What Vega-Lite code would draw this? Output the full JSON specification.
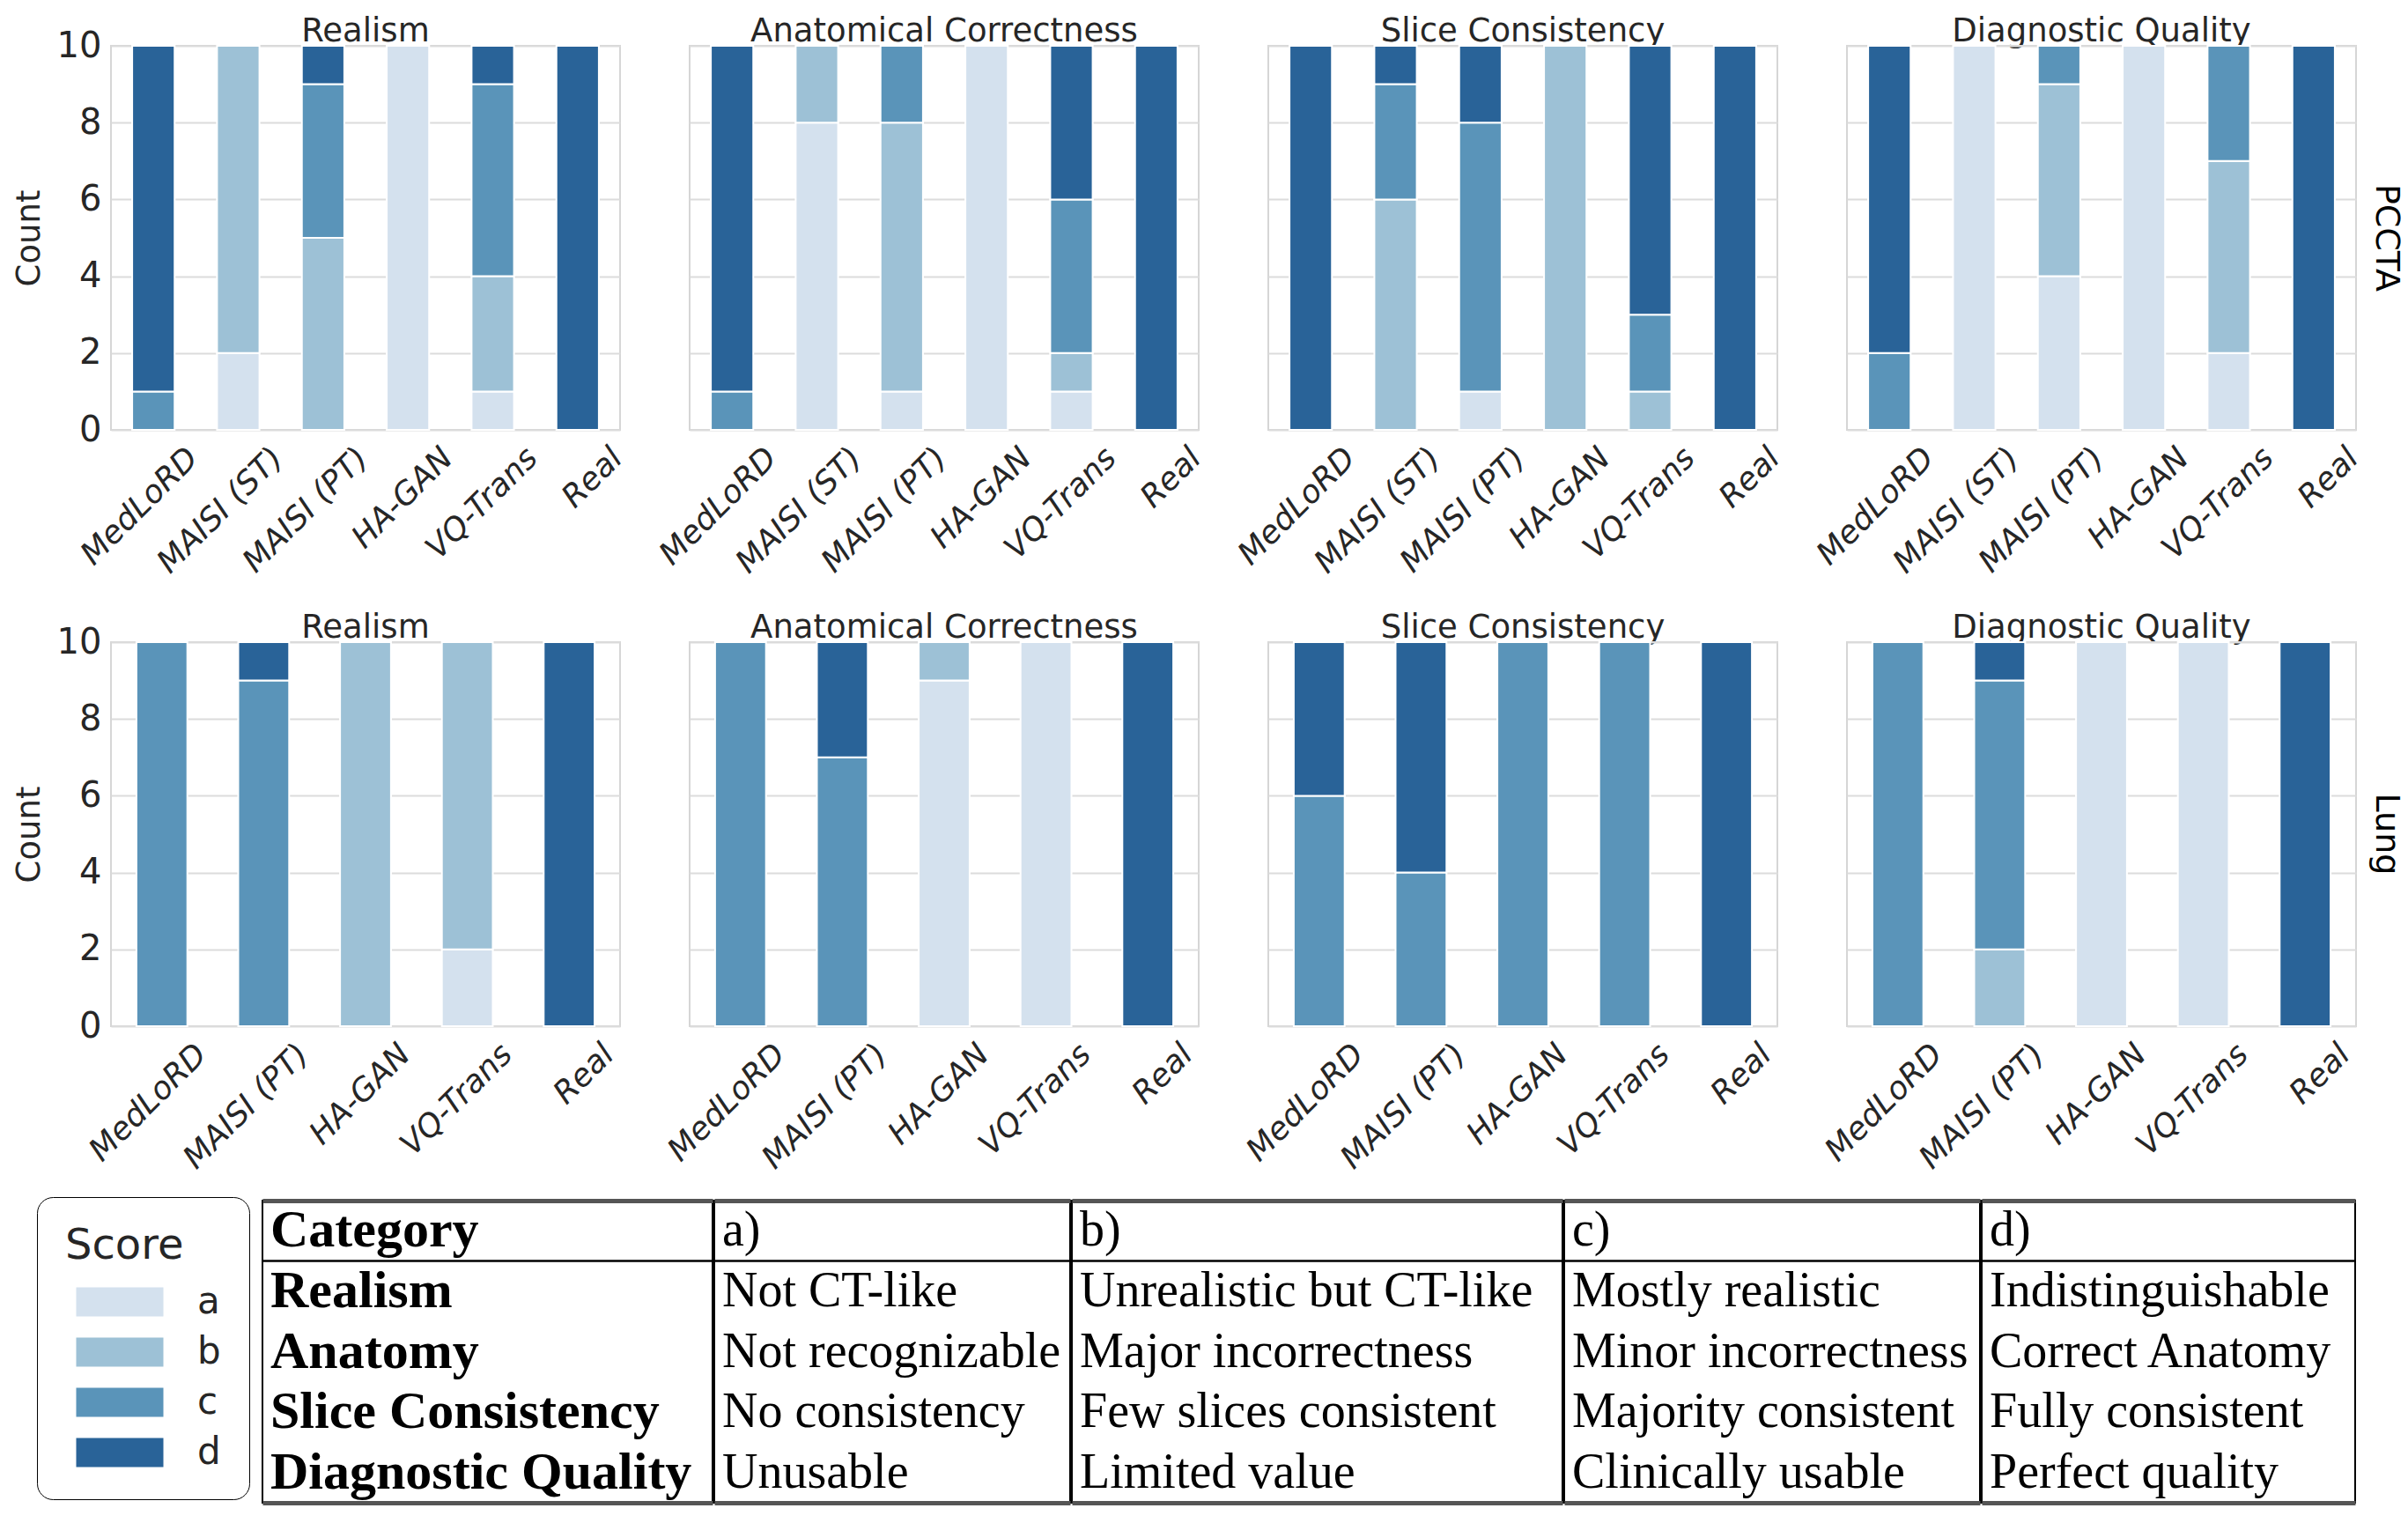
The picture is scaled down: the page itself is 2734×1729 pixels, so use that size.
{
  "$schema": "https://vega.github.io/schema/vega-lite/v6.json",
  "background": "white",
  "padding": {"left": 14, "top": 17, "right": 4, "bottom": 4},
  "config": {
    "font": "DejaVu Sans",
    "view": {"stroke": "#d6d6d6", "strokeWidth": 2},
    "axis": {"domain": false, "ticks": false, "gridColor": "#dcdcdc", "gridWidth": 2, "labelColor": "#262626", "titleColor": "#262626"},
    "header": {"labelColor": "#262626"}
  },
  "datasets": {
    "bars": [
      {"dataset": "PCCTA", "criterion": "Realism", "model": "MedLoRD", "score": "c", "count": 1},
      {"dataset": "PCCTA", "criterion": "Realism", "model": "MedLoRD", "score": "d", "count": 9},
      {"dataset": "PCCTA", "criterion": "Realism", "model": "MAISI (ST)", "score": "a", "count": 2},
      {"dataset": "PCCTA", "criterion": "Realism", "model": "MAISI (ST)", "score": "b", "count": 8},
      {"dataset": "PCCTA", "criterion": "Realism", "model": "MAISI (PT)", "score": "b", "count": 5},
      {"dataset": "PCCTA", "criterion": "Realism", "model": "MAISI (PT)", "score": "c", "count": 4},
      {"dataset": "PCCTA", "criterion": "Realism", "model": "MAISI (PT)", "score": "d", "count": 1},
      {"dataset": "PCCTA", "criterion": "Realism", "model": "HA-GAN", "score": "a", "count": 10},
      {"dataset": "PCCTA", "criterion": "Realism", "model": "VQ-Trans", "score": "a", "count": 1},
      {"dataset": "PCCTA", "criterion": "Realism", "model": "VQ-Trans", "score": "b", "count": 3},
      {"dataset": "PCCTA", "criterion": "Realism", "model": "VQ-Trans", "score": "c", "count": 5},
      {"dataset": "PCCTA", "criterion": "Realism", "model": "VQ-Trans", "score": "d", "count": 1},
      {"dataset": "PCCTA", "criterion": "Realism", "model": "Real", "score": "d", "count": 10},
      {"dataset": "PCCTA", "criterion": "Anatomical Correctness", "model": "MedLoRD", "score": "c", "count": 1},
      {"dataset": "PCCTA", "criterion": "Anatomical Correctness", "model": "MedLoRD", "score": "d", "count": 9},
      {"dataset": "PCCTA", "criterion": "Anatomical Correctness", "model": "MAISI (ST)", "score": "a", "count": 8},
      {"dataset": "PCCTA", "criterion": "Anatomical Correctness", "model": "MAISI (ST)", "score": "b", "count": 2},
      {"dataset": "PCCTA", "criterion": "Anatomical Correctness", "model": "MAISI (PT)", "score": "a", "count": 1},
      {"dataset": "PCCTA", "criterion": "Anatomical Correctness", "model": "MAISI (PT)", "score": "b", "count": 7},
      {"dataset": "PCCTA", "criterion": "Anatomical Correctness", "model": "MAISI (PT)", "score": "c", "count": 2},
      {"dataset": "PCCTA", "criterion": "Anatomical Correctness", "model": "HA-GAN", "score": "a", "count": 10},
      {"dataset": "PCCTA", "criterion": "Anatomical Correctness", "model": "VQ-Trans", "score": "a", "count": 1},
      {"dataset": "PCCTA", "criterion": "Anatomical Correctness", "model": "VQ-Trans", "score": "b", "count": 1},
      {"dataset": "PCCTA", "criterion": "Anatomical Correctness", "model": "VQ-Trans", "score": "c", "count": 4},
      {"dataset": "PCCTA", "criterion": "Anatomical Correctness", "model": "VQ-Trans", "score": "d", "count": 4},
      {"dataset": "PCCTA", "criterion": "Anatomical Correctness", "model": "Real", "score": "d", "count": 10},
      {"dataset": "PCCTA", "criterion": "Slice Consistency", "model": "MedLoRD", "score": "d", "count": 10},
      {"dataset": "PCCTA", "criterion": "Slice Consistency", "model": "MAISI (ST)", "score": "b", "count": 6},
      {"dataset": "PCCTA", "criterion": "Slice Consistency", "model": "MAISI (ST)", "score": "c", "count": 3},
      {"dataset": "PCCTA", "criterion": "Slice Consistency", "model": "MAISI (ST)", "score": "d", "count": 1},
      {"dataset": "PCCTA", "criterion": "Slice Consistency", "model": "MAISI (PT)", "score": "a", "count": 1},
      {"dataset": "PCCTA", "criterion": "Slice Consistency", "model": "MAISI (PT)", "score": "c", "count": 7},
      {"dataset": "PCCTA", "criterion": "Slice Consistency", "model": "MAISI (PT)", "score": "d", "count": 2},
      {"dataset": "PCCTA", "criterion": "Slice Consistency", "model": "HA-GAN", "score": "b", "count": 10},
      {"dataset": "PCCTA", "criterion": "Slice Consistency", "model": "VQ-Trans", "score": "b", "count": 1},
      {"dataset": "PCCTA", "criterion": "Slice Consistency", "model": "VQ-Trans", "score": "c", "count": 2},
      {"dataset": "PCCTA", "criterion": "Slice Consistency", "model": "VQ-Trans", "score": "d", "count": 7},
      {"dataset": "PCCTA", "criterion": "Slice Consistency", "model": "Real", "score": "d", "count": 10},
      {"dataset": "PCCTA", "criterion": "Diagnostic Quality", "model": "MedLoRD", "score": "c", "count": 2},
      {"dataset": "PCCTA", "criterion": "Diagnostic Quality", "model": "MedLoRD", "score": "d", "count": 8},
      {"dataset": "PCCTA", "criterion": "Diagnostic Quality", "model": "MAISI (ST)", "score": "a", "count": 10},
      {"dataset": "PCCTA", "criterion": "Diagnostic Quality", "model": "MAISI (PT)", "score": "a", "count": 4},
      {"dataset": "PCCTA", "criterion": "Diagnostic Quality", "model": "MAISI (PT)", "score": "b", "count": 5},
      {"dataset": "PCCTA", "criterion": "Diagnostic Quality", "model": "MAISI (PT)", "score": "c", "count": 1},
      {"dataset": "PCCTA", "criterion": "Diagnostic Quality", "model": "HA-GAN", "score": "a", "count": 10},
      {"dataset": "PCCTA", "criterion": "Diagnostic Quality", "model": "VQ-Trans", "score": "a", "count": 2},
      {"dataset": "PCCTA", "criterion": "Diagnostic Quality", "model": "VQ-Trans", "score": "b", "count": 5},
      {"dataset": "PCCTA", "criterion": "Diagnostic Quality", "model": "VQ-Trans", "score": "c", "count": 3},
      {"dataset": "PCCTA", "criterion": "Diagnostic Quality", "model": "Real", "score": "d", "count": 10},
      {"dataset": "Lung", "criterion": "Realism", "model": "MedLoRD", "score": "c", "count": 10},
      {"dataset": "Lung", "criterion": "Realism", "model": "MAISI (PT)", "score": "c", "count": 9},
      {"dataset": "Lung", "criterion": "Realism", "model": "MAISI (PT)", "score": "d", "count": 1},
      {"dataset": "Lung", "criterion": "Realism", "model": "HA-GAN", "score": "b", "count": 10},
      {"dataset": "Lung", "criterion": "Realism", "model": "VQ-Trans", "score": "a", "count": 2},
      {"dataset": "Lung", "criterion": "Realism", "model": "VQ-Trans", "score": "b", "count": 8},
      {"dataset": "Lung", "criterion": "Realism", "model": "Real", "score": "d", "count": 10},
      {"dataset": "Lung", "criterion": "Anatomical Correctness", "model": "MedLoRD", "score": "c", "count": 10},
      {"dataset": "Lung", "criterion": "Anatomical Correctness", "model": "MAISI (PT)", "score": "c", "count": 7},
      {"dataset": "Lung", "criterion": "Anatomical Correctness", "model": "MAISI (PT)", "score": "d", "count": 3},
      {"dataset": "Lung", "criterion": "Anatomical Correctness", "model": "HA-GAN", "score": "a", "count": 9},
      {"dataset": "Lung", "criterion": "Anatomical Correctness", "model": "HA-GAN", "score": "b", "count": 1},
      {"dataset": "Lung", "criterion": "Anatomical Correctness", "model": "VQ-Trans", "score": "a", "count": 10},
      {"dataset": "Lung", "criterion": "Anatomical Correctness", "model": "Real", "score": "d", "count": 10},
      {"dataset": "Lung", "criterion": "Slice Consistency", "model": "MedLoRD", "score": "c", "count": 6},
      {"dataset": "Lung", "criterion": "Slice Consistency", "model": "MedLoRD", "score": "d", "count": 4},
      {"dataset": "Lung", "criterion": "Slice Consistency", "model": "MAISI (PT)", "score": "c", "count": 4},
      {"dataset": "Lung", "criterion": "Slice Consistency", "model": "MAISI (PT)", "score": "d", "count": 6},
      {"dataset": "Lung", "criterion": "Slice Consistency", "model": "HA-GAN", "score": "c", "count": 10},
      {"dataset": "Lung", "criterion": "Slice Consistency", "model": "VQ-Trans", "score": "c", "count": 10},
      {"dataset": "Lung", "criterion": "Slice Consistency", "model": "Real", "score": "d", "count": 10},
      {"dataset": "Lung", "criterion": "Diagnostic Quality", "model": "MedLoRD", "score": "c", "count": 10},
      {"dataset": "Lung", "criterion": "Diagnostic Quality", "model": "MAISI (PT)", "score": "b", "count": 2},
      {"dataset": "Lung", "criterion": "Diagnostic Quality", "model": "MAISI (PT)", "score": "c", "count": 7},
      {"dataset": "Lung", "criterion": "Diagnostic Quality", "model": "MAISI (PT)", "score": "d", "count": 1},
      {"dataset": "Lung", "criterion": "Diagnostic Quality", "model": "HA-GAN", "score": "a", "count": 10},
      {"dataset": "Lung", "criterion": "Diagnostic Quality", "model": "VQ-Trans", "score": "a", "count": 10},
      {"dataset": "Lung", "criterion": "Diagnostic Quality", "model": "Real", "score": "d", "count": 10}
    ],
    "table": [
      {"row": "Category", "col": "Category", "text": "Category"},
      {"row": "Category", "col": "a)", "text": "a)"},
      {"row": "Category", "col": "b)", "text": "b)"},
      {"row": "Category", "col": "c)", "text": "c)"},
      {"row": "Category", "col": "d)", "text": "d)"},
      {"row": "Realism", "col": "Category", "text": "Realism"},
      {"row": "Realism", "col": "a)", "text": "Not CT-like"},
      {"row": "Realism", "col": "b)", "text": "Unrealistic but CT-like"},
      {"row": "Realism", "col": "c)", "text": "Mostly realistic"},
      {"row": "Realism", "col": "d)", "text": "Indistinguishable"},
      {"row": "Anatomy", "col": "Category", "text": "Anatomy"},
      {"row": "Anatomy", "col": "a)", "text": "Not recognizable"},
      {"row": "Anatomy", "col": "b)", "text": "Major incorrectness"},
      {"row": "Anatomy", "col": "c)", "text": "Minor incorrectness"},
      {"row": "Anatomy", "col": "d)", "text": "Correct Anatomy"},
      {"row": "Slice Consistency", "col": "Category", "text": "Slice Consistency"},
      {"row": "Slice Consistency", "col": "a)", "text": "No consistency"},
      {"row": "Slice Consistency", "col": "b)", "text": "Few slices consistent"},
      {"row": "Slice Consistency", "col": "c)", "text": "Majority consistent"},
      {"row": "Slice Consistency", "col": "d)", "text": "Fully consistent"},
      {"row": "Diagnostic Quality", "col": "Category", "text": "Diagnostic Quality"},
      {"row": "Diagnostic Quality", "col": "a)", "text": "Unusable"},
      {"row": "Diagnostic Quality", "col": "b)", "text": "Limited value"},
      {"row": "Diagnostic Quality", "col": "c)", "text": "Clinically usable"},
      {"row": "Diagnostic Quality", "col": "d)", "text": "Perfect quality"}
    ]
  },
  "resolve": {"scale": {"x": "independent", "y": "independent"}},
  "spacing": 28,
  "vconcat": [
    {
      "spacing": 37,
      "resolve": {"scale": {"x": "independent", "y": "independent"}},
      "vconcat": [
        {
          "data": {"name": "bars"},
          "transform": [{"filter": "datum.dataset === 'PCCTA'"}],
          "facet": {
            "row": {"field": "dataset", "type": "nominal", "title": null, "header": {"labelOrient": "right", "labelAngle": 90, "labelFontSize": 38, "labelPadding": 14, "labelColor": "black"}},
            "column": {"field": "criterion", "type": "nominal", "title": null, "sort": ["Realism", "Anatomical Correctness", "Slice Consistency", "Diagnostic Quality"], "header": {"labelFontSize": 37, "labelPadding": -5}}
          },
          "spacing": {"column": 77, "row": 0},
          "spec": {
            "width": 578,
            "height": 436,
            "mark": {"type": "bar", "stroke": "white", "strokeWidth": 2},
            "encoding": {
              "x": {"field": "model", "type": "nominal", "sort": ["MedLoRD", "MAISI (ST)", "MAISI (PT)", "HA-GAN", "VQ-Trans", "Real"], "scale": {"paddingInner": 0.5, "paddingOuter": 0.25}, "axis": {"title": null, "labelAngle": -45, "labelAlign": "right", "labelBaseline": "top", "labelFontSize": 36, "labelFontStyle": "italic", "labelOffset": 33, "labelPadding": 12, "labelLimit": 500, "labelOverlap": false}},
              "y": {"field": "count", "type": "quantitative", "stack": "zero", "scale": {"domain": [0, 10], "nice": false}, "axis": {"title": "Count", "values": [0, 2, 4, 6, 8, 10], "labelFontSize": 40, "titleFontSize": 37, "titleFontWeight": "normal", "labelPadding": 10, "titlePadding": 12}},
              "color": {"field": "score", "type": "nominal", "scale": {"domain": ["a", "b", "c", "d"], "range": ["#d4e1ee", "#9dc1d6", "#5a94b9", "#296398"]},
                "legend": {"title": "Score", "orient": "none", "legendX": -84, "legendY": 1307, "symbolType": "M-1,-1L5,-1L5,1L-1,1Z", "symbolSize": 1089, "symbolStrokeWidth": 0, "symbolOpacity": 1, "symbolOffset": 8, "labelOffset": 100, "labelFontSize": 42, "labelColor": "#262626", "titleFontSize": 48, "titleFontWeight": "normal", "titleColor": "#262626", "titlePadding": 18, "rowPadding": 15, "padding": 32, "strokeColor": "black", "cornerRadius": 18,
                  "encode": {"legend": {"update": {"strokeWidth": {"value": 3}}}}}},
              "order": {"field": "score"}
            }
          }
        },
        {
          "data": {"name": "bars"},
          "transform": [{"filter": "datum.dataset === 'Lung'"}],
          "facet": {
            "row": {"field": "dataset", "type": "nominal", "title": null, "header": {"labelOrient": "right", "labelAngle": 90, "labelFontSize": 38, "labelPadding": 14, "labelColor": "black"}},
            "column": {"field": "criterion", "type": "nominal", "title": null, "sort": ["Realism", "Anatomical Correctness", "Slice Consistency", "Diagnostic Quality"], "header": {"labelFontSize": 37, "labelPadding": -5}}
          },
          "spacing": {"column": 77, "row": 0},
          "spec": {
            "width": 578,
            "height": 436,
            "mark": {"type": "bar", "stroke": "white", "strokeWidth": 2},
            "encoding": {
              "x": {"field": "model", "type": "nominal", "sort": ["MedLoRD", "MAISI (ST)", "MAISI (PT)", "HA-GAN", "VQ-Trans", "Real"], "scale": {"paddingInner": 0.5, "paddingOuter": 0.25}, "axis": {"title": null, "labelAngle": -45, "labelAlign": "right", "labelBaseline": "top", "labelFontSize": 36, "labelFontStyle": "italic", "labelOffset": 33, "labelPadding": 12, "labelLimit": 500, "labelOverlap": false}},
              "y": {"field": "count", "type": "quantitative", "stack": "zero", "scale": {"domain": [0, 10], "nice": false}, "axis": {"title": "Count", "values": [0, 2, 4, 6, 8, 10], "labelFontSize": 40, "titleFontSize": 37, "titleFontWeight": "normal", "labelPadding": 10, "titlePadding": 12}},
              "color": {"field": "score", "type": "nominal", "scale": {"domain": ["a", "b", "c", "d"], "range": ["#d4e1ee", "#9dc1d6", "#5a94b9", "#296398"]}},
              "order": {"field": "score"}
            }
          }
        }
      ]
    },
    {
      "spacing": 0,
      "hconcat": [
        {"width": 171, "height": 343, "data": {"values": []}, "mark": {"type": "point", "opacity": 0}, "encoding": {}, "view": {"stroke": null}},
        {
          "width": 511, "height": 343,
          "data": {"name": "table"},
          "transform": [{"filter": "datum.col === 'Category'"}],
          "view": {"stroke": "black", "strokeWidth": 2},
          "layer": [
            {"mark": {"type": "text", "align": "left", "baseline": "middle", "dx": 9, "font": "Liberation Serif", "fontSize": 60, "fontWeight": "bold", "color": "black"},
             "encoding": {
               "x": {"datum": 0, "type": "quantitative", "scale": {"domain": [0, 1]}, "axis": {"orient": "top", "domain": true, "domainColor": "#555555", "domainWidth": 5, "labels": false, "ticks": false, "grid": false, "title": null}},
               "y": {"field": "row", "type": "nominal", "sort": ["Category", "Realism", "Anatomy", "Slice Consistency", "Diagnostic Quality"], "bandPosition": 0.5, "scale": {"type": "band", "paddingInner": 0, "paddingOuter": 0}, "axis": {"values": ["Realism"], "bandPosition": 0, "grid": true, "gridColor": "black", "gridWidth": 2.5, "labels": false, "ticks": false, "domain": false, "title": null}},
               "text": {"field": "text", "type": "nominal"}
             }},
            {"mark": {"type": "text", "opacity": 0},
             "encoding": {
               "x": {"datum": 0, "type": "quantitative", "scale": {"domain": [0, 1]}, "axis": {"orient": "bottom", "domain": true, "domainColor": "#555555", "domainWidth": 5, "labels": false, "ticks": false, "grid": false, "title": null}},
               "y": {"field": "row", "type": "nominal", "sort": ["Category", "Realism", "Anatomy", "Slice Consistency", "Diagnostic Quality"]}
             }}
          ],
          "resolve": {"axis": {"x": "independent"}}
        },
        {
          "width": 404, "height": 343,
          "data": {"name": "table"},
          "transform": [{"filter": "datum.col === 'a)'"}],
          "view": {"stroke": "black", "strokeWidth": 2},
          "layer": [
            {"mark": {"type": "text", "align": "left", "baseline": "middle", "dx": 9, "font": "Liberation Serif", "fontSize": 56, "color": "black"},
             "encoding": {
               "x": {"datum": 0, "type": "quantitative", "scale": {"domain": [0, 1]}, "axis": {"orient": "top", "domain": true, "domainColor": "#555555", "domainWidth": 5, "labels": false, "ticks": false, "grid": false, "title": null}},
               "y": {"field": "row", "type": "nominal", "sort": ["Category", "Realism", "Anatomy", "Slice Consistency", "Diagnostic Quality"], "bandPosition": 0.5, "scale": {"type": "band", "paddingInner": 0, "paddingOuter": 0}, "axis": {"values": ["Realism"], "bandPosition": 0, "grid": true, "gridColor": "black", "gridWidth": 2.5, "labels": false, "ticks": false, "domain": false, "title": null}},
               "text": {"field": "text", "type": "nominal"}
             }},
            {"mark": {"type": "text", "opacity": 0},
             "encoding": {
               "x": {"datum": 0, "type": "quantitative", "scale": {"domain": [0, 1]}, "axis": {"orient": "bottom", "domain": true, "domainColor": "#555555", "domainWidth": 5, "labels": false, "ticks": false, "grid": false, "title": null}},
               "y": {"field": "row", "type": "nominal", "sort": ["Category", "Realism", "Anatomy", "Slice Consistency", "Diagnostic Quality"]}
             }}
          ],
          "resolve": {"axis": {"x": "independent"}}
        },
        {
          "width": 557, "height": 343,
          "data": {"name": "table"},
          "transform": [{"filter": "datum.col === 'b)'"}],
          "view": {"stroke": "black", "strokeWidth": 2},
          "layer": [
            {"mark": {"type": "text", "align": "left", "baseline": "middle", "dx": 9, "font": "Liberation Serif", "fontSize": 56, "color": "black"},
             "encoding": {
               "x": {"datum": 0, "type": "quantitative", "scale": {"domain": [0, 1]}, "axis": {"orient": "top", "domain": true, "domainColor": "#555555", "domainWidth": 5, "labels": false, "ticks": false, "grid": false, "title": null}},
               "y": {"field": "row", "type": "nominal", "sort": ["Category", "Realism", "Anatomy", "Slice Consistency", "Diagnostic Quality"], "bandPosition": 0.5, "scale": {"type": "band", "paddingInner": 0, "paddingOuter": 0}, "axis": {"values": ["Realism"], "bandPosition": 0, "grid": true, "gridColor": "black", "gridWidth": 2.5, "labels": false, "ticks": false, "domain": false, "title": null}},
               "text": {"field": "text", "type": "nominal"}
             }},
            {"mark": {"type": "text", "opacity": 0},
             "encoding": {
               "x": {"datum": 0, "type": "quantitative", "scale": {"domain": [0, 1]}, "axis": {"orient": "bottom", "domain": true, "domainColor": "#555555", "domainWidth": 5, "labels": false, "ticks": false, "grid": false, "title": null}},
               "y": {"field": "row", "type": "nominal", "sort": ["Category", "Realism", "Anatomy", "Slice Consistency", "Diagnostic Quality"]}
             }}
          ],
          "resolve": {"axis": {"x": "independent"}}
        },
        {
          "width": 472, "height": 343,
          "data": {"name": "table"},
          "transform": [{"filter": "datum.col === 'c)'"}],
          "view": {"stroke": "black", "strokeWidth": 2},
          "layer": [
            {"mark": {"type": "text", "align": "left", "baseline": "middle", "dx": 9, "font": "Liberation Serif", "fontSize": 56, "color": "black"},
             "encoding": {
               "x": {"datum": 0, "type": "quantitative", "scale": {"domain": [0, 1]}, "axis": {"orient": "top", "domain": true, "domainColor": "#555555", "domainWidth": 5, "labels": false, "ticks": false, "grid": false, "title": null}},
               "y": {"field": "row", "type": "nominal", "sort": ["Category", "Realism", "Anatomy", "Slice Consistency", "Diagnostic Quality"], "bandPosition": 0.5, "scale": {"type": "band", "paddingInner": 0, "paddingOuter": 0}, "axis": {"values": ["Realism"], "bandPosition": 0, "grid": true, "gridColor": "black", "gridWidth": 2.5, "labels": false, "ticks": false, "domain": false, "title": null}},
               "text": {"field": "text", "type": "nominal"}
             }},
            {"mark": {"type": "text", "opacity": 0},
             "encoding": {
               "x": {"datum": 0, "type": "quantitative", "scale": {"domain": [0, 1]}, "axis": {"orient": "bottom", "domain": true, "domainColor": "#555555", "domainWidth": 5, "labels": false, "ticks": false, "grid": false, "title": null}},
               "y": {"field": "row", "type": "nominal", "sort": ["Category", "Realism", "Anatomy", "Slice Consistency", "Diagnostic Quality"]}
             }}
          ],
          "resolve": {"axis": {"x": "independent"}}
        },
        {
          "width": 424, "height": 343,
          "data": {"name": "table"},
          "transform": [{"filter": "datum.col === 'd)'"}],
          "view": {"stroke": "black", "strokeWidth": 2},
          "layer": [
            {"mark": {"type": "text", "align": "left", "baseline": "middle", "dx": 9, "font": "Liberation Serif", "fontSize": 56, "color": "black"},
             "encoding": {
               "x": {"datum": 0, "type": "quantitative", "scale": {"domain": [0, 1]}, "axis": {"orient": "top", "domain": true, "domainColor": "#555555", "domainWidth": 5, "labels": false, "ticks": false, "grid": false, "title": null}},
               "y": {"field": "row", "type": "nominal", "sort": ["Category", "Realism", "Anatomy", "Slice Consistency", "Diagnostic Quality"], "bandPosition": 0.5, "scale": {"type": "band", "paddingInner": 0, "paddingOuter": 0}, "axis": {"values": ["Realism"], "bandPosition": 0, "grid": true, "gridColor": "black", "gridWidth": 2.5, "labels": false, "ticks": false, "domain": false, "title": null}},
               "text": {"field": "text", "type": "nominal"}
             }},
            {"mark": {"type": "text", "opacity": 0},
             "encoding": {
               "x": {"datum": 0, "type": "quantitative", "scale": {"domain": [0, 1]}, "axis": {"orient": "bottom", "domain": true, "domainColor": "#555555", "domainWidth": 5, "labels": false, "ticks": false, "grid": false, "title": null}},
               "y": {"field": "row", "type": "nominal", "sort": ["Category", "Realism", "Anatomy", "Slice Consistency", "Diagnostic Quality"]}
             }}
          ],
          "resolve": {"axis": {"x": "independent"}}
        }
      ]
    }
  ]
}
